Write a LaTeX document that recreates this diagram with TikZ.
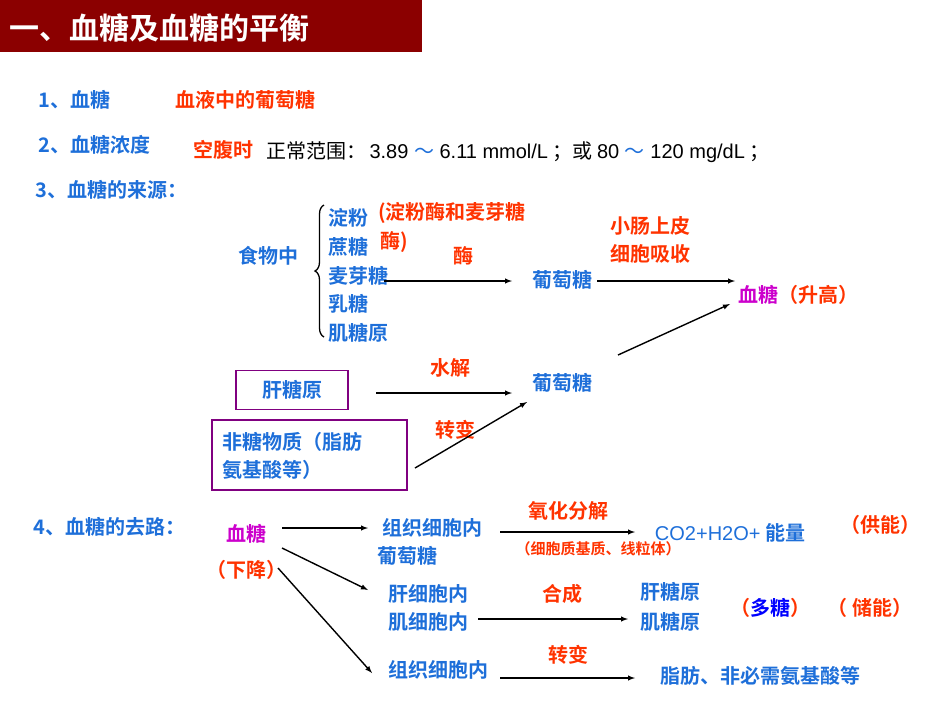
\documentclass[tikz,border=0pt]{standalone}
\usepackage{fontspec}
\setmainfont{Noto Sans CJK SC}[BoldFont={* Bold}]
\newfontfamily\arl{Liberation Sans}
\newfontfamily\cjkf{Noto Sans CJK SC}
\usetikzlibrary{decorations.pathreplacing}
\definecolor{tb}{HTML}{1E6FD9}
\definecolor{tr}{HTML}{FF3300}
\definecolor{mg}{HTML}{CC00CC}
\definecolor{bar}{HTML}{8B0000}
\definecolor{bx}{HTML}{800080}
\newcommand{\tld}{{\cjkf\textcolor{tb}{～}}}
\tikzset{x=1pt,y=-1pt,
 bl/.style={text=tb,font=\fontsize{20}{24}\selectfont\bfseries,inner sep=0pt},
 rd/.style={text=tr,font=\fontsize{20}{24}\selectfont\bfseries,inner sep=0pt},
 mgt/.style={text=mg,font=\fontsize{20}{24}\selectfont\bfseries,inner sep=0pt},
 arr/.style={-latex,line width=1.4pt},
 bxs/.style={draw=bx,line width=1.3pt}}
\begin{document}
\begin{tikzpicture}
\useasboundingbox (0,0) rectangle (950,713);
\fill[bar] (0,0) rectangle (422,52);
\node[anchor=west,text=white,font=\fontsize{30}{34}\selectfont\bfseries] (title) at (6,28) {一、血糖及血糖的平衡};
\node[bl,anchor=west] (l1) at (38,100) {1、血糖};
\node[rd,anchor=west] (l1b) at (175,100) {血液中的葡萄糖};
\node[bl,anchor=west] (l2) at (38,145) {2、血糖浓度};
\node[rd,anchor=west] (l2b) at (193,150) {空腹时};
\node[anchor=west,inner sep=0pt,font=\fontsize{20}{24}\selectfont] (l2c) at (266,152) {正常范围：\,{\arl 3.89 }\tld{\arl\ 6.11 mmol/L} ；或 {\arl 80 }\tld{\arl\ 120 mg/dL} ；};
\node[bl,anchor=west] (l3) at (35,190) {3、血糖的来源：};
\node[bl] (food) at (268,256) {食物中};
\draw[line width=1.3pt,decorate,decoration={brace,amplitude=9pt}] (324,337) -- (324,205);
\node[bl,anchor=west] (f1) at (328,218) {淀粉};
\node[bl,anchor=west] (f2) at (328,247) {蔗糖};
\node[bl,anchor=west] (f3) at (328,276) {麦芽糖};
\node[bl,anchor=west] (f4) at (328,304) {乳糖};
\node[bl,anchor=west] (f5) at (328,333) {肌糖原};
\node[rd,anchor=west] (e1) at (378,213) {(淀粉酶和麦芽糖};
\node[rd,anchor=west] (e2) at (380,242) {酶)};
\node[rd] (mei) at (463,256) {酶};
\node[bl] (g1) at (562,280) {葡萄糖};
\node[rd] (xc1) at (650,226) {小肠上皮};
\node[rd] (xc2) at (650,254) {细胞吸收};
\node[anchor=west,inner sep=0pt,font=\fontsize{20}{24}\selectfont\bfseries] (xt) at (738,295) {\textcolor{mg}{血糖}\textcolor{tr}{（升高）}};
\coordinate (a1s) at (384,281); \coordinate (a1e) at (512,281);
\draw[arr] (a1s) -- (a1e);
\coordinate (a2s) at (597,281); \coordinate (a2e) at (735,281);
\draw[arr] (a2s) -- (a2e);
\node[bxs,bl,minimum width=112pt,minimum height=39pt] (gty) at (292,390) {肝糖原};
\node[rd] (sj) at (450,368) {水解};
\node[bl] (g2) at (562,383) {葡萄糖};
\coordinate (a3s) at (376,393); \coordinate (a3e) at (512,393);
\draw[arr] (a3s) -- (a3e);
\coordinate (a4s) at (618,355); \coordinate (a4e) at (730,304);
\draw[arr] (a4s) -- (a4e);
\node[rd] (zb1) at (455,430) {转变};
\draw[bxs] (212,420) rectangle (407,490);
\node[bl,anchor=west] (ft1) at (222,442) {非糖物质（脂肪};
\node[bl,anchor=west] (ft2) at (222,470) {氨基酸等）};
\coordinate (a5s) at (415,468); \coordinate (a5e) at (527,402);
\draw[arr] (a5s) -- (a5e);
\node[bl,anchor=west] (l4) at (33,527) {4、血糖的去路：};
\node[mgt] (xt2) at (246,534) {血糖};
\node[rd] (xj) at (246,570) {（下降）};
\coordinate (b1s) at (282,528); \coordinate (b1e) at (368,528);
\draw[arr] (b1s) -- (b1e);
\coordinate (b2s) at (282,548); \coordinate (b2e) at (368,590);
\draw[arr] (b2s) -- (b2e);
\coordinate (b3s) at (278,568); \coordinate (b3e) at (372,673);
\draw[arr] (b3s) -- (b3e);
\node[bl] (zz1) at (432,528) {组织细胞内};
\node[bl] (zz1b) at (407,556) {葡萄糖};
\node[rd] (yh) at (568,511) {氧化分解};
\coordinate (c1s) at (500,532); \coordinate (c1e) at (635,532);
\draw[arr] (c1s) -- (c1e);
\node[anchor=center,inner sep=0pt,text=tb,font=\fontsize{20}{24}\selectfont] (co2) at (730,533) {{\arl CO2+H2O+} \textbf{能量}};
\node[rd] (gn) at (880,525) {（供能）};
\node[rd,font=\fontsize{15}{18}\selectfont\bfseries] (xb) at (598,549) {（细胞质基质、线粒体）};
\node[bl] (gx) at (428,594) {肝细胞内};
\node[bl] (jx) at (428,622) {肌细胞内};
\node[rd] (hc) at (562,594) {合成};
\coordinate (c2s) at (478,619); \coordinate (c2e) at (628,619);
\draw[arr] (c2s) -- (c2e);
\node[bl] (gty2) at (670,592) {肝糖原};
\node[bl] (jty2) at (670,622) {肌糖原};
\node[anchor=center,inner sep=0pt,font=\fontsize{20}{24}\selectfont\bfseries] (dt) at (770,608) {\textcolor{tr}{（}\textcolor{blue}{多糖}\textcolor{tr}{）}};
\node[rd] (cn) at (870,608) {（ 储能）};
\node[bl] (zz3) at (438,670) {组织细胞内};
\node[rd] (zb2) at (568,655) {转变};
\coordinate (c3s) at (500,678); \coordinate (c3e) at (635,678);
\draw[arr] (c3s) -- (c3e);
\node[bl] (zf) at (760,676) {脂肪、非必需氨基酸等};
\end{tikzpicture}
\end{document}
